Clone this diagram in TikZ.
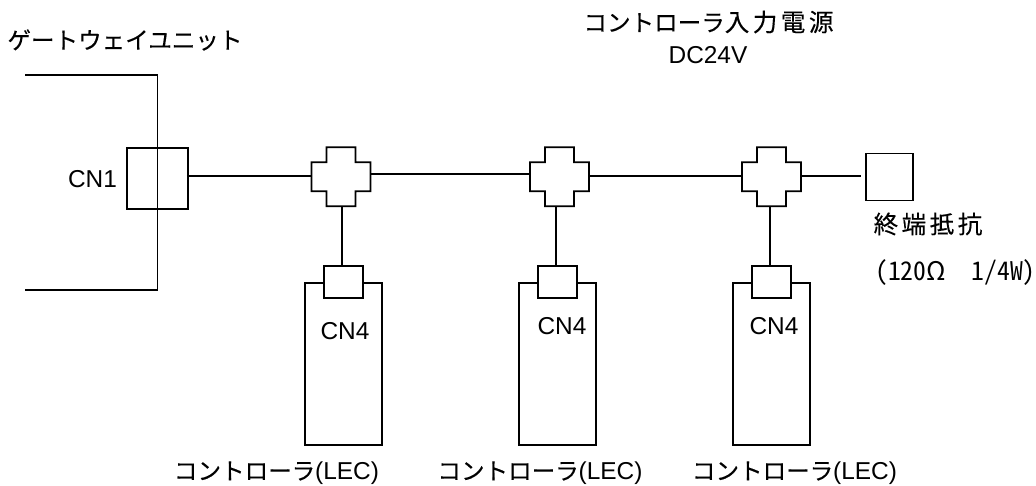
\documentclass[tikz,border=0pt]{standalone}
\usepackage{fontspec}
\usepackage{tikz}
\usetikzlibrary{positioning}
\setmainfont{Liberation Sans}
\newfontfamily\cjk[FakeBold=0.25]{Noto Sans CJK JP}
\newfontfamily\cjkwide[LetterSpace=14,FakeBold=0.25]{Noto Sans CJK JP}
\newfontfamily\cjkhalf[RawFeature=+hwid]{Noto Sans CJK JP}
\newcommand{\kana}{\fontsize{13.4pt}{15pt}\cjk}
\newcommand{\kanji}{\fontsize{14pt}{16pt}\cjkwide}
\tikzset{
  wire/.style={draw=black,line width=1pt},
  plainbox/.style={draw=black,line width=1pt,inner sep=0pt,fill=white},
  jointbox/.style={inner sep=0pt,minimum size=1.18cm},
  label/.style={inner sep=0pt,font=\fontsize{13.9pt}{16pt}\selectfont},
}
% one T-branch: bare node plus its cross outline
\newcommand{\crossjoint}[2]{
\node [jointbox] (#1) at (#2) {};
\draw [wire] ([xshift=-0.29cm]#1.north) -- ([xshift=0.29cm]#1.north)
  -- ++(0,-15) -- ++(15,0) -- ++(0,-29) -- ++(-15,0) -- ++(0,-15)
  -- ++(-29,0) -- ++(0,15) -- ++(-15,0) -- ++(0,29) -- ++(15,0) -- cycle;
}
% one controller: body, its connector box, the label inside
\newcommand{\controller}[3]{
\node [plainbox,minimum width=1.54cm,minimum height=3.24cm] (body#1) at (#2,-364) {};
\node [plainbox,minimum width=0.77cm,minimum height=0.64cm] (conn#1) at (#2,-282) {};
\node [label] (cnf#1) at (#3) {CN4};
}
\begin{document}
\begin{tikzpicture}[x=0.02cm,y=0.02cm]
\useasboundingbox (0,0) rectangle (1036,-485);
% gateway unit
\coordinate (gwtop) at (25,-75);
\coordinate (gwbot) at (25,-290);
\node [plainbox,minimum size=1.22cm] (cnone) at (157.5,-178.5) {};
\draw [wire] (gwtop) -| (cnone.north);
\draw [wire] (gwbot) -| (cnone.south);
\draw [wire] (cnone.north) -- (cnone.south);
\node [label] (cnonel) at (92.5,-179) {CN1};
\node [inner sep=0pt,font=\kana] (gwl) at (125,-40) {ゲートウェイユニット};
% joints
\crossjoint{jone}{341,-177}
\crossjoint{jtwo}{559.5,-177}
\crossjoint{jthree}{771.5,-177}
% controllers
\controller{one}{343.5}{345,-331}
\controller{two}{557.5}{562,-326}
\controller{three}{771.5}{774,-326}
% terminator
\node [plainbox,minimum size=0.94cm] (term) at (889.5,-177) {};
\coordinate (termend) at (861,-176);
% bus
\draw [wire] ([xshift=-0.04cm,yshift=0.02cm]cnone.east |- jone.west) -- ([yshift=0.02cm]jone.west);
\draw [wire] ([yshift=0.06cm]jone.east) -- ([yshift=0.06cm]jtwo.west);
\draw [wire] ([yshift=0.02cm]jtwo.east) -- ([yshift=0.02cm]jthree.west);
\draw [wire] ([yshift=0.02cm]jthree.east) -- (termend);
\draw [wire] ([xshift=-0.03cm]connone.north) -- ([xshift=-0.03cm]connone.north |- jone.south);
\draw [wire] ([xshift=-0.03cm]conntwo.north) -- ([xshift=-0.03cm]conntwo.north |- jtwo.south);
\draw [wire] ([xshift=-0.03cm]connthree.north) -- ([xshift=-0.03cm]connthree.north |- jthree.south);
% texts
\node [inner sep=0pt] (pwrl) at (708.5,-22) {\kana コントローラ\kanji 入力電源};
\node [label] (dcl) at (708,-55) {DC24V};
\node [inner sep=0pt,font=\kanji] (terml) at (928,-224) {終端抵抗};
\node [inner sep=0pt,font=\fontsize{14.6pt}{16pt}\cjkhalf] (ratel) at (955.5,-273) {(120Ω~~1/4W)};
\node [label] (lecone) at (276.5,-473) {\kana コントローラ\rmfamily\fontsize{13.9pt}{16pt}\selectfont (LEC)};
\node [label] (lectwo) at (540,-473) {\kana コントローラ\rmfamily\fontsize{13.9pt}{16pt}\selectfont (LEC)};
\node [label] (lecthree) at (794.5,-473) {\kana コントローラ\rmfamily\fontsize{13.9pt}{16pt}\selectfont (LEC)};
\end{tikzpicture}
\end{document}
